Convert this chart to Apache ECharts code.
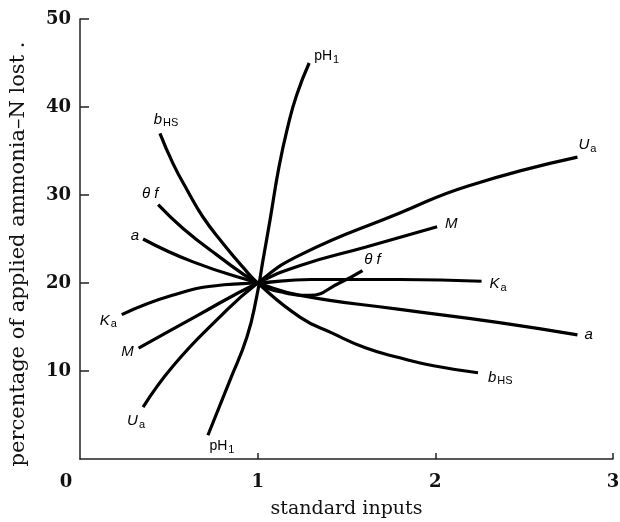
<!DOCTYPE html>
<html><head><meta charset="utf-8">
<script src="https://cdn.jsdelivr.net/npm/echarts@6/dist/echarts.min.js"></script>
<style>html,body{margin:0;padding:0;background:#fff}#c{width:620px;height:522px}</style>
</head><body><div id="c"></div>
<script>
// Curves: [standard inputs, percentage lost]
const pH1 = [[0.72,2.7],[0.845,9.0],[0.94,13.9],[0.994,18.4],[1.03,22.6],[1.07,27.2],[1.12,33.2],[1.17,37.8],[1.22,41.4],[1.29,45.0]];
const bHS = [[0.45,37.0],[0.523,33.6],[0.602,30.6],[0.692,27.5],[0.805,24.5],[0.917,21.8],[1,20],[1.24,16.1],[1.42,14.3],[1.61,12.6],[1.80,11.5],[1.99,10.6],[2.24,9.8]];
const thetaF = [[0.44,28.9],[0.58,26.2],[0.77,23.2],[1,20],[1.15,18.9],[1.29,18.6],[1.46,20.0],[1.59,21.4]];
const aCurve = [[0.355,25.0],[0.636,22.4],[1,20],[1.24,18.6],[1.8,17.0],[2.36,15.5],[2.8,14.1]];
const Ka = [[0.235,16.4],[0.52,18.6],[0.81,19.8],[1,20],[1.3,20.4],[1.8,20.4],[2.26,20.2]];
const M = [[0.33,12.6],[0.66,16.3],[1,20],[1.24,22.0],[1.61,24.1],[2.01,26.4]];
const Ua = [[0.355,5.9],[0.525,10.6],[0.77,15.8],[1,20],[1.24,23.2],[1.80,27.95],[2.18,31.0],[2.8,34.3]];
const xTicks = [0,1,2,3];
const yTicks = [10,20,30,40,50];

// label texts and placements (start, end)
const curves = [
  {data:pH1, text:'{n|pH}{s|1}', start:['bottom',14,-3], end:['right',0,-7]},
  {data:bHS, text:'{i|b}{s|HS}', start:['top',6,0], end:['right',5,5]},
  {data:thetaF, text:'{i|θ f}', start:['top',-8,2], end:['top',10,2]},
  {data:aCurve, text:'{i|a}', start:['left',1,-3], end:['right',2,0]},
  {data:Ka, text:'{i|K}{s|a}', start:['left',0,6], end:['right',3,3]},
  {data:M, text:'{i|M}', start:['left',0,4], end:['right',3,-3]},
  {data:Ua, text:'{i|U}{s|a}', start:['bottom',-7,0], end:['top',10,2]}
];
const rich = {
  i:{fontStyle:'italic', fontSize:15, fontFamily:'Liberation Sans', color:'#000'},
  n:{fontSize:14, fontFamily:'Liberation Sans', color:'#000'},
  s:{fontSize:11, fontFamily:'Liberation Sans', color:'#000', padding:[7,0,0,1]}
};
function mkLabel(p, text){
  return {show:true, position:p[0], offset:[p[1],p[2]], distance:5, formatter:text, rich:rich};
}
const series = curves.map(c => ({
  type:'line', smooth:0.5, symbol:'circle', symbolSize:0, showSymbol:true, showAllSymbol:true,
  lineStyle:{color:'#000', width:3.2}, itemStyle:{color:'#000'},
  emphasis:{disabled:true}, silent:true,
  data:c.data.map((d,i) => {
    const item = {value:d};
    if (i===0) item.label = mkLabel(c.start, c.text);
    else if (i===c.data.length-1) item.label = mkLabel(c.end, c.text);
    else item.label = {show:false};
    return item;
  })
}));
const chart = echarts.init(document.getElementById('c'), null, {renderer:'canvas'});
chart.setOption({
  animation:false,
  grid:{left:80, right:7, top:19, bottom:63, containLabel:false, outerBoundsMode:'none'},
  xAxis:{type:'value', min:0, max:3, interval:1,
    name:'standard inputs', nameLocation:'middle', nameGap:41,
    nameTextStyle:{fontFamily:'DejaVu Serif', fontSize:19, color:'#111'},
    axisLine:{lineStyle:{color:'#222', width:1.5}},
    axisTick:{show:true, inside:true, length:6, customValues:[1,2,3], lineStyle:{color:'#222', width:1.5}},
    splitLine:{show:false},
    axisLabel:{margin:14, color:'#111', fontFamily:'DejaVu Serif', fontWeight:'bold', fontSize:18,
      formatter:v => v===0 ? '{o|0}' : (xTicks.indexOf(v)>=0 ? String(v) : ''),
      rich:{o:{fontFamily:'DejaVu Serif', fontWeight:'bold', fontSize:18, color:'#111', padding:[0,28,0,0]}}}
  },
  yAxis:{type:'value', min:0, max:50, interval:10,
    name:'percentage of applied ammonia–N lost .', nameLocation:'middle', nameGap:51, nameRotate:90,
    nameTextStyle:{fontFamily:'DejaVu Serif', fontSize:21, color:'#111', padding:[0,30,0,0]},
    axisLine:{show:true, lineStyle:{color:'#222', width:1.5}},
    axisTick:{show:true, inside:true, length:9, customValues:yTicks, lineStyle:{color:'#222', width:1.5}},
    splitLine:{show:false},
    axisLabel:{margin:9, color:'#111', fontFamily:'DejaVu Serif', fontWeight:'bold', fontSize:18,
      formatter:v => yTicks.indexOf(v)>=0 ? String(v) : ''}
  },
  series:series
});
</script></body></html>
